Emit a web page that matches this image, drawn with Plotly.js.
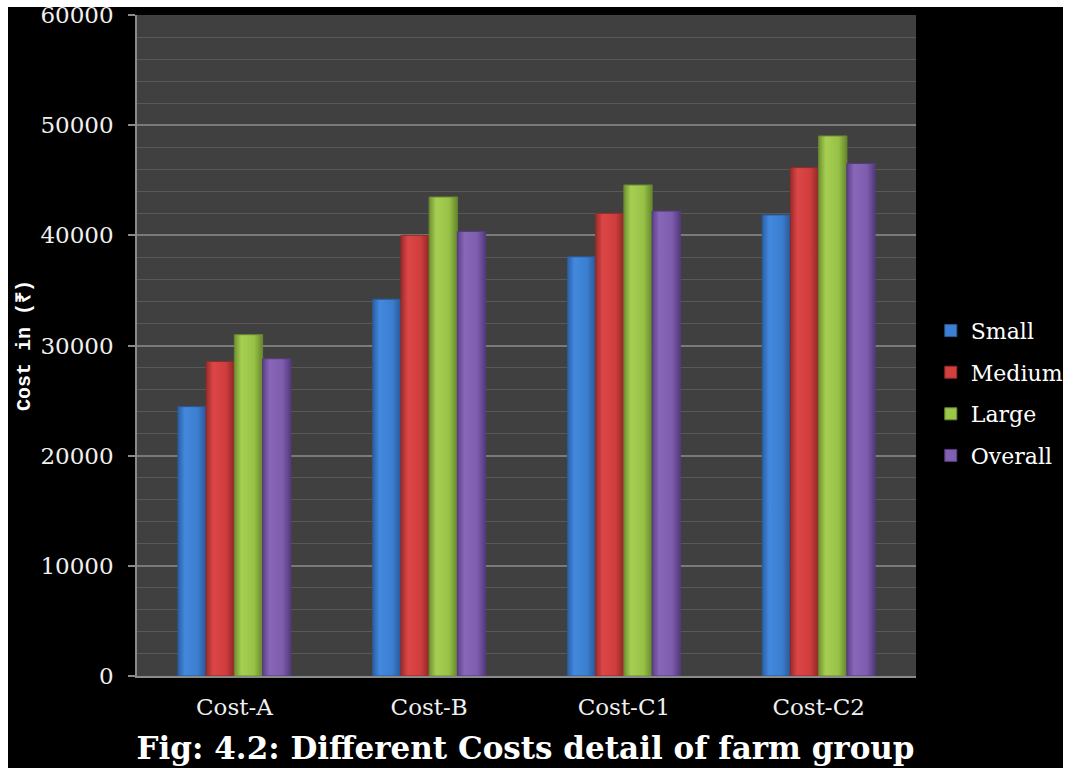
<!DOCTYPE html>
<html>
<head>
<meta charset="utf-8">
<script src="https://cdn.plot.ly/plotly-3.0.1.min.js"></script>
<style>
  html, body { margin: 0; padding: 0; background: #ffffff; overflow: hidden; }
  #chart { position: absolute; left: 0; top: 0; width: 1077px; height: 768px; }
  .edge { position: absolute; background: #ffffff; z-index: 5; }
  #edgeTop { left: 0; top: 0; width: 1077px; height: 7px; }
  #edgeLeft { left: 0; top: 0; width: 8px; height: 768px; }
  #edgeRight { left: 1063px; top: 0; width: 14px; height: 768px; }
</style>
</head>
<body>
<div id="chart"></div>
<div class="edge" id="edgeTop"></div>
<div class="edge" id="edgeLeft"></div>
<div class="edge" id="edgeRight"></div>
<script>
// Cost categories and farm-group cost values (₹)
const categories = ["Cost-A", "Cost-B", "Cost-C1", "Cost-C2"];
const groupNames = ["Small", "Medium", "Large", "Overall"];
const small   = [24450, 34200, 38050, 41850];
const medium  = [28550, 40000, 42000, 46150];
const large   = [30980, 43480, 44570, 49020];
const overall = [28800, 40350, 42200, 46520];
const seriesValues = [small, medium, large, overall];

const fillColors = ["#3d80d3", "#d33f3f", "#9cc64b", "#8060b1"];
const edgeColors = ["#2a5a96", "#8e2a2a", "#6a8a30", "#553c80"];
// shaded fill for the rounded bar look: dark edge, bright body, dark edge
const shadeStops = [
  ["#2b5fa3", "#4389dd", "#3b7ed0", "#2a5896"],
  ["#9a2c2c", "#dc4646", "#d03d3d", "#8f2828"],
  ["#6f9130", "#a6cf52", "#98c247", "#66872b"],
  ["#5b3f88", "#8866b8", "#7e5daf", "#523a7c"]
];

const traces = seriesValues.map((vals, i) => ({
  type: "bar",
  name: groupNames[i],
  x: categories,
  y: vals,
  legendgroup: "g" + i,
  marker: {
    color: fillColors[i],
    line: { color: edgeColors[i], width: 1 }
  },
  hoverinfo: "x+y+name"
}));

const layout = {
  width: 1077,
  height: 768,
  paper_bgcolor: "#000000",
  plot_bgcolor: "#404040",
  margin: { l: 137, r: 161, t: 15, b: 92, autoexpand: false },
  barmode: "group",
  bargap: 0.42,
  bargroupgap: 0,
  showlegend: true,
  legend: {
    x: 1.019, xanchor: "left",
    y: 0.554, yanchor: "top",
    font: { family: "DejaVu Serif", size: 22, color: "#ffffff" },
    tracegroupgap: 10,
    bgcolor: "rgba(0,0,0,0)",
    itemwidth: 30
  },
  title: {
    text: "<b>Fig: 4.2: Different Costs detail of farm group</b>",
    font: { family: "DejaVu Serif", size: 31, color: "#ffffff" },
    xref: "container", yref: "container",
    x: 0.488, xanchor: "center",
    y: 0.026, yanchor: "middle"
  },
  xaxis: {
    type: "category",
    showgrid: false,
    showline: true,
    linecolor: "#8a8a8a",
    linewidth: 1.5,
    ticks: "",
    ticklabelstandoff: 10,
    tickfont: { family: "DejaVu Serif", size: 23, color: "#f0f0f0" },
    fixedrange: true
  },
  yaxis: {
    range: [0, 60000],
    dtick: 10000,
    tick0: 0,
    tickformat: "d",
    showline: true,
    linecolor: "#8a8a8a",
    linewidth: 1.5,
    ticks: "outside",
    ticklen: 7,
    tickcolor: "#8a8a8a",
    tickwidth: 1.5,
    ticklabelstandoff: 10,
    showgrid: true,
    gridcolor: "#7a7a7a",
    gridwidth: 1.5,
    zeroline: false,
    minor: { dtick: 2000, showgrid: true, gridcolor: "#585858", gridwidth: 1.2 },
    tickfont: { family: "DejaVu Serif", size: 23, color: "#f0f0f0" },
    title: {
      text: "<b>Cost in (₹)</b>",
      font: { family: "Liberation Mono", size: 20, color: "#ffffff" },
      standoff: 4
    },
    automargin: false,
    fixedrange: true
  }
};

Plotly.newPlot("chart", traces, layout, { displayModeBar: false, responsive: false }).then(gd => {
  // horizontal shading on each bar drawn by Plotly
  const svg = gd.querySelector(".main-svg");
  const ns = "http://www.w3.org/2000/svg";
  let defs = svg.querySelector("defs");
  shadeStops.forEach((stops, i) => {
    const grad = document.createElementNS(ns, "linearGradient");
    grad.setAttribute("id", "barShade" + i);
    grad.setAttribute("x1", "0"); grad.setAttribute("x2", "1");
    grad.setAttribute("y1", "0"); grad.setAttribute("y2", "0");
    [[0, stops[0]], [0.25, stops[1]], [0.7, stops[2]], [1, stops[3]]].forEach(([o, c]) => {
      const s = document.createElementNS(ns, "stop");
      s.setAttribute("offset", o);
      s.setAttribute("stop-color", c);
      grad.appendChild(s);
    });
    defs.appendChild(grad);
  });
  gd.querySelectorAll(".barlayer .trace.bars").forEach((tr, i) => {
    tr.querySelectorAll(".point path").forEach(p => { p.style.fill = "url(#barShade" + i + ")"; });
  });
});
</script>
</body>
</html>
